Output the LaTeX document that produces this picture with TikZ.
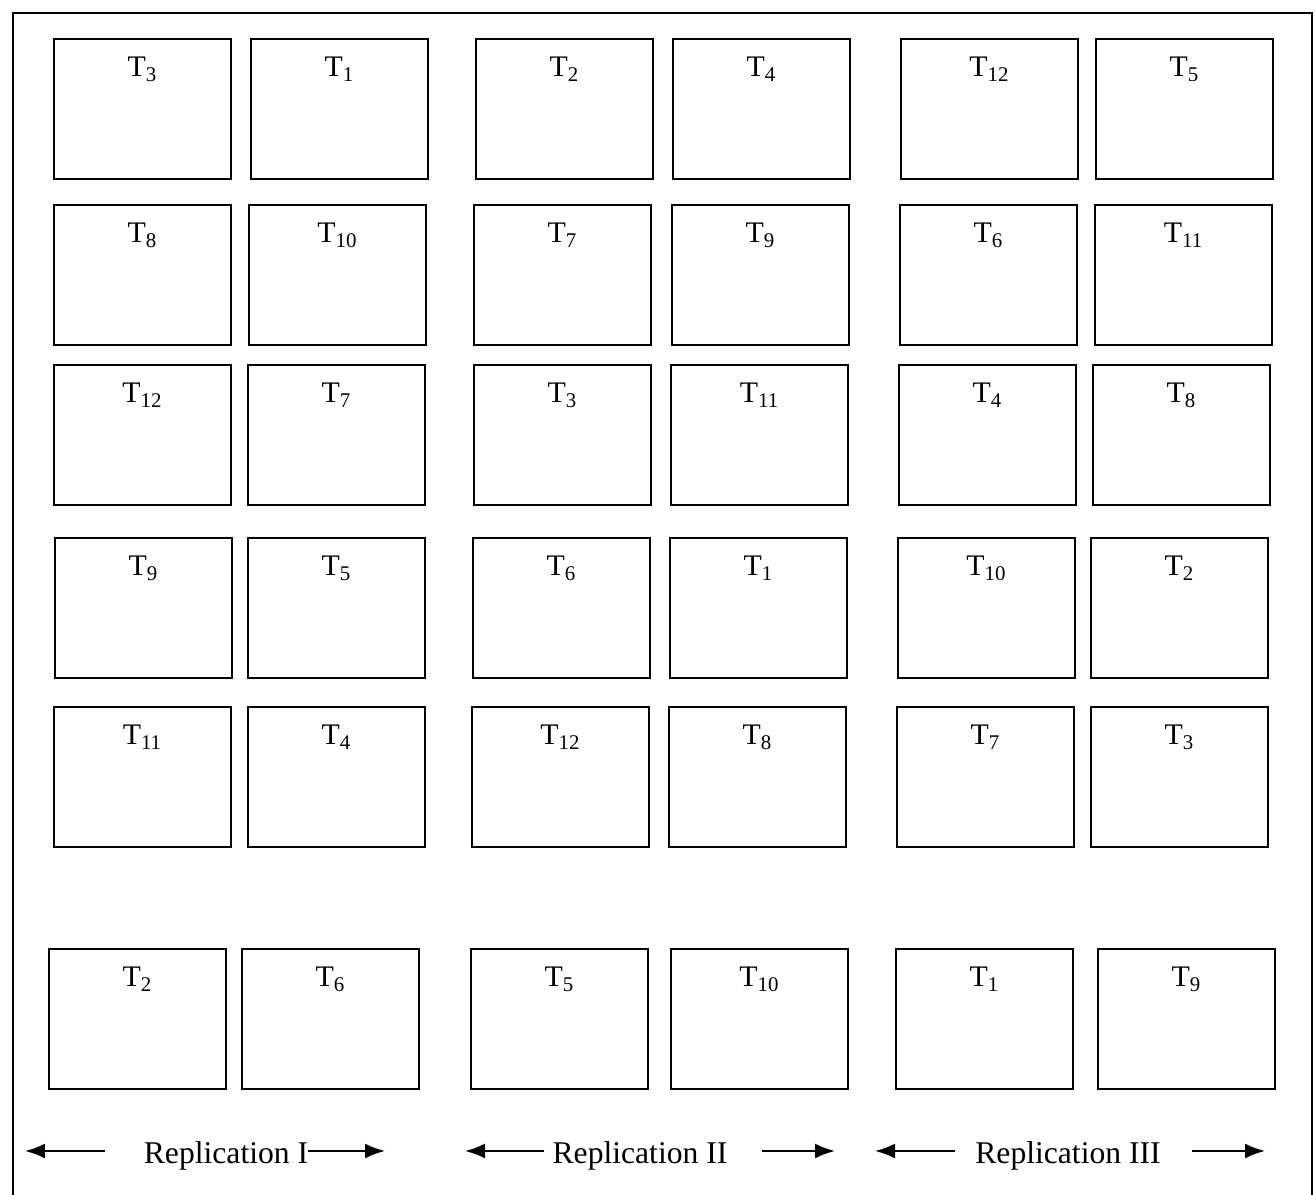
\documentclass[tikz,border=0pt]{standalone}
\usepackage{fontspec}
\setmainfont{Liberation Serif}
\usetikzlibrary{arrows.meta}

\begin{document}
\begin{tikzpicture}[
  x=0.02cm, y=-0.02cm,
  plot/.style={rectangle, draw, line width=1.1pt, anchor=north west, inner sep=0pt, minimum width=3.54cm, minimum height=2.8cm},
  trt/.style={anchor=north, inner sep=0pt, font=\fontsize{17}{20}\selectfont},
  rep/.style={anchor=base, inner sep=0pt, font=\fontsize{18}{21}\selectfont},
  arrow/.style={-{Latex[length=4mm,width=3mm]}, line width=1.2pt}
]
\useasboundingbox (0,0) rectangle (1315,1195);

% frame
\draw[line width=1.2pt] (13,1195) -- (13,13) -- (1312,13) -- (1312,1195);

% plots: row / top edge / {left edge/treatment}
\foreach \r/\y/\row in {
  1/38/{53/3,250/1,475/2,672/4,900/12,1095/5},
  2/204/{53/8,248/10,473/7,671/9,899/6,1094/11},
  3/364/{53/12,247/7,473/3,670/11,898/4,1092/8},
  4/537/{54/9,247/5,472/6,669/1,897/10,1090/2},
  5/706/{53/11,247/4,471/12,668/8,896/7,1090/3},
  6/948/{48/2,241/6,470/5,670/10,895/1,1097/9}}{
  \foreach \x/\t [count=\c] in \row {
    \node[plot] (p\r-\c) at (\x,\y) {};
    \node[trt] (t\r-\c) at ([yshift=-0.38cm]p\r-\c.north) {T\textsubscript{\t}};
  }
}

% replications
\node[rep] (rep1) at (226,1163) {Replication I};
\node[rep] (rep2) at (640,1163) {Replication II};
\node[rep] (rep3) at (1068,1163) {Replication III};

\coordinate (r1l) at (25,1151);
\coordinate (r1r) at (385,1151);
\coordinate (r2l) at (465,1151);
\coordinate (r2r) at (835,1151);
\coordinate (r3l) at (875,1151);
\coordinate (r3r) at (1265,1151);

\draw[arrow] (105,1151) -- (r1l);
\draw[arrow] (rep1.east |- r1r) -- (r1r);
\draw[arrow] ([xshift=-0.16cm]rep2.west |- r2l) -- (r2l);
\draw[arrow] (762,1151) -- (r2r);
\draw[arrow] (955,1151) -- (r3l);
\draw[arrow] (1192,1151) -- (r3r);

\end{tikzpicture}
\end{document}
